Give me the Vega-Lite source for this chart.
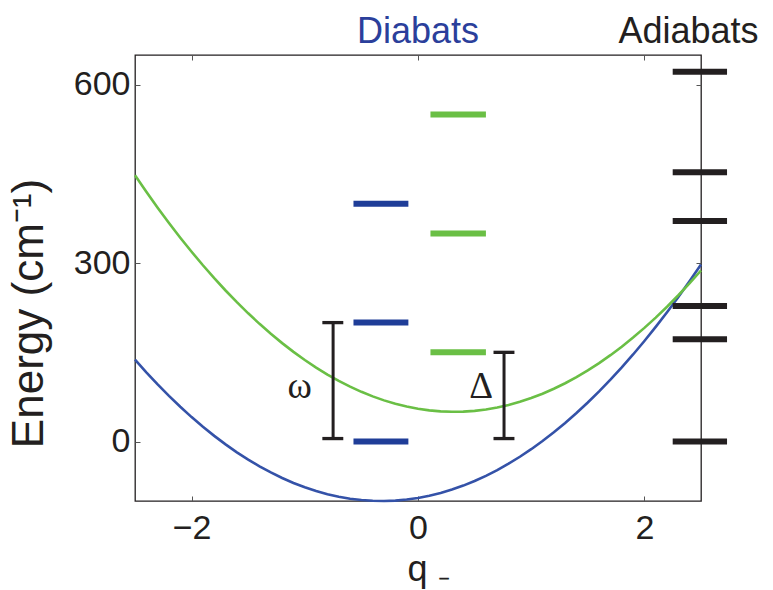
{
  "$schema": "https://vega.github.io/schema/vega-lite/v6.json",
  "width": 566,
  "height": 446,
  "autosize": "none",
  "padding": {"left": 135, "top": 55, "right": 72, "bottom": 89},
  "background": "white",
  "config": {
    "view": {"stroke": "#231f20", "strokeWidth": 1.3},
    "font": "Liberation Sans",
    "axis": {
      "grid": false,
      "domain": false,
      "tickSize": -5,
      "tickColor": "#555555",
      "tickWidth": 1,
      "labelFont": "Liberation Sans",
      "labelFontSize": 34,
      "labelColor": "#231f20",
      "titleFont": "Liberation Sans",
      "titleFontWeight": "normal",
      "titleColor": "#231f20"
    }
  },
  "datasets": {
    "curves": [
      {"q": -2.5, "E": 137.6, "s": "blue"}, {"q": -2.4, "E": 116.3, "s": "blue"}, {"q": -2.3, "E": 96.0, "s": "blue"}, {"q": -2.2, "E": 76.7, "s": "blue"}, {"q": -2.1, "E": 58.4, "s": "blue"},
      {"q": -2.0, "E": 41.1, "s": "blue"}, {"q": -1.9, "E": 24.8, "s": "blue"}, {"q": -1.8, "E": 9.5, "s": "blue"}, {"q": -1.7, "E": -4.8, "s": "blue"}, {"q": -1.6, "E": -18.1, "s": "blue"},
      {"q": -1.5, "E": -30.4, "s": "blue"}, {"q": -1.4, "E": -41.7, "s": "blue"}, {"q": -1.3, "E": -52.0, "s": "blue"}, {"q": -1.2, "E": -61.3, "s": "blue"}, {"q": -1.1, "E": -69.6, "s": "blue"},
      {"q": -1.0, "E": -76.9, "s": "blue"}, {"q": -0.9, "E": -83.2, "s": "blue"}, {"q": -0.8, "E": -88.5, "s": "blue"}, {"q": -0.7, "E": -92.8, "s": "blue"}, {"q": -0.6, "E": -96.1, "s": "blue"},
      {"q": -0.5, "E": -98.4, "s": "blue"}, {"q": -0.4, "E": -99.7, "s": "blue"}, {"q": -0.3, "E": -100.0, "s": "blue"}, {"q": -0.2, "E": -99.3, "s": "blue"}, {"q": -0.1, "E": -97.6, "s": "blue"},
      {"q": 0.0, "E": -94.9, "s": "blue"}, {"q": 0.1, "E": -91.2, "s": "blue"}, {"q": 0.2, "E": -86.5, "s": "blue"}, {"q": 0.3, "E": -80.8, "s": "blue"}, {"q": 0.4, "E": -74.1, "s": "blue"},
      {"q": 0.5, "E": -66.4, "s": "blue"}, {"q": 0.6, "E": -57.7, "s": "blue"}, {"q": 0.7, "E": -48.0, "s": "blue"}, {"q": 0.8, "E": -37.3, "s": "blue"}, {"q": 0.9, "E": -25.6, "s": "blue"},
      {"q": 1.0, "E": -12.9, "s": "blue"}, {"q": 1.1, "E": 0.8, "s": "blue"}, {"q": 1.2, "E": 15.5, "s": "blue"}, {"q": 1.3, "E": 31.2, "s": "blue"}, {"q": 1.4, "E": 47.9, "s": "blue"},
      {"q": 1.5, "E": 65.6, "s": "blue"}, {"q": 1.6, "E": 84.3, "s": "blue"}, {"q": 1.7, "E": 104.0, "s": "blue"}, {"q": 1.8, "E": 124.7, "s": "blue"}, {"q": 1.9, "E": 146.4, "s": "blue"},
      {"q": 2.0, "E": 169.1, "s": "blue"}, {"q": 2.1, "E": 192.8, "s": "blue"}, {"q": 2.2, "E": 217.5, "s": "blue"}, {"q": 2.3, "E": 243.2, "s": "blue"}, {"q": 2.4, "E": 269.9, "s": "blue"},
      {"q": 2.5, "E": 297.6, "s": "blue"},
      {"q": -2.5, "E": 447.6, "s": "green"}, {"q": -2.4, "E": 419.9, "s": "green"}, {"q": -2.3, "E": 393.2, "s": "green"}, {"q": -2.2, "E": 367.5, "s": "green"}, {"q": -2.1, "E": 342.8, "s": "green"},
      {"q": -2.0, "E": 319.1, "s": "green"}, {"q": -1.9, "E": 296.4, "s": "green"}, {"q": -1.8, "E": 274.7, "s": "green"}, {"q": -1.7, "E": 254.0, "s": "green"}, {"q": -1.6, "E": 234.3, "s": "green"},
      {"q": -1.5, "E": 215.6, "s": "green"}, {"q": -1.4, "E": 197.9, "s": "green"}, {"q": -1.3, "E": 181.2, "s": "green"}, {"q": -1.2, "E": 165.5, "s": "green"}, {"q": -1.1, "E": 150.8, "s": "green"},
      {"q": -1.0, "E": 137.1, "s": "green"}, {"q": -0.9, "E": 124.4, "s": "green"}, {"q": -0.8, "E": 112.7, "s": "green"}, {"q": -0.7, "E": 102.0, "s": "green"}, {"q": -0.6, "E": 92.3, "s": "green"},
      {"q": -0.5, "E": 83.6, "s": "green"}, {"q": -0.4, "E": 75.9, "s": "green"}, {"q": -0.3, "E": 69.2, "s": "green"}, {"q": -0.2, "E": 63.5, "s": "green"}, {"q": -0.1, "E": 58.8, "s": "green"},
      {"q": 0.0, "E": 55.1, "s": "green"}, {"q": 0.1, "E": 52.4, "s": "green"}, {"q": 0.2, "E": 50.7, "s": "green"}, {"q": 0.3, "E": 50.0, "s": "green"}, {"q": 0.4, "E": 50.3, "s": "green"},
      {"q": 0.5, "E": 51.6, "s": "green"}, {"q": 0.6, "E": 53.9, "s": "green"}, {"q": 0.7, "E": 57.2, "s": "green"}, {"q": 0.8, "E": 61.5, "s": "green"}, {"q": 0.9, "E": 66.8, "s": "green"},
      {"q": 1.0, "E": 73.1, "s": "green"}, {"q": 1.1, "E": 80.4, "s": "green"}, {"q": 1.2, "E": 88.7, "s": "green"}, {"q": 1.3, "E": 98.0, "s": "green"}, {"q": 1.4, "E": 108.3, "s": "green"},
      {"q": 1.5, "E": 119.6, "s": "green"}, {"q": 1.6, "E": 131.9, "s": "green"}, {"q": 1.7, "E": 145.2, "s": "green"}, {"q": 1.8, "E": 159.5, "s": "green"}, {"q": 1.9, "E": 174.8, "s": "green"},
      {"q": 2.0, "E": 191.1, "s": "green"}, {"q": 2.1, "E": 208.4, "s": "green"}, {"q": 2.2, "E": 226.7, "s": "green"}, {"q": 2.3, "E": 246.0, "s": "green"}, {"q": 2.4, "E": 266.3, "s": "green"},
      {"q": 2.5, "E": 287.6, "s": "green"}
    ],
    "levels": [
      {"q1": -0.57, "q2": -0.085, "E": 0, "k": "blue"},
      {"q1": -0.57, "q2": -0.085, "E": 200, "k": "blue"},
      {"q1": -0.57, "q2": -0.085, "E": 400, "k": "blue"},
      {"q1": 0.11, "q2": 0.6, "E": 150, "k": "green"},
      {"q1": 0.11, "q2": 0.6, "E": 350, "k": "green"},
      {"q1": 0.11, "q2": 0.6, "E": 550, "k": "green"},
      {"q1": 2.25, "q2": 2.73, "E": 0, "k": "black"},
      {"q1": 2.25, "q2": 2.73, "E": 172, "k": "black"},
      {"q1": 2.25, "q2": 2.73, "E": 228, "k": "black"},
      {"q1": 2.25, "q2": 2.73, "E": 371, "k": "black"},
      {"q1": 2.25, "q2": 2.73, "E": 453, "k": "black"},
      {"q1": 2.25, "q2": 2.73, "E": 622, "k": "black"}
    ],
    "bars": [
      {"q": -0.75, "lo": 5, "hi": 200},
      {"q": 0.76, "lo": 5, "hi": 150}
    ],
    "caps": [
      {"c1": -0.845, "c2": -0.66, "E": 5},
      {"c1": -0.845, "c2": -0.66, "E": 200},
      {"c1": 0.667, "c2": 0.852, "E": 5},
      {"c1": 0.667, "c2": 0.852, "E": 150}
    ],
    "symbols": [
      {"q": -1.046, "E": 73.5, "t": "ω"},
      {"q": 0.558, "E": 73.5, "t": "Δ"}
    ],
    "headers": [
      {"q": 0.0, "E": 670, "t": "Diabats", "k": "blue"},
      {"q": 2.39, "E": 670, "t": "Adiabats", "k": "black"}
    ]
  },
  "layer": [
    {
      "data": {"name": "curves"},
      "mark": {"type": "line", "strokeWidth": 2.6},
      "encoding": {
        "x": {"field": "q", "type": "quantitative", "scale": {"domain": [-2.5, 2.5], "nice": false, "zero": false},
              "axis": {"orient": "bottom", "values": [-2, 0, 2], "labelPadding": 15, "title": "q ₋", "titleFontSize": 36, "titleX": 293, "titleY": 79, "titleBaseline": "alphabetic"}},
        "y": {"field": "E", "type": "quantitative", "scale": {"domain": [-100, 650], "nice": false, "zero": false},
              "axis": {"orient": "left", "values": [0, 300, 600], "labelPadding": 10, "title": "Energy (cm⁻¹)", "titleFontSize": 44, "titleX": -93, "titleY": 258, "titleBaseline": "alphabetic", "titleAngle": -90}},
        "color": {"field": "s", "type": "nominal", "scale": {"domain": ["blue", "green"], "range": ["#3452a8", "#6abf45"]}, "legend": null},
        "detail": {"field": "s"}
      }
    },
    {
      "data": {"name": "levels"},
      "mark": {"type": "rule", "strokeWidth": 6, "strokeCap": "butt"},
      "encoding": {
        "x": {"field": "q1", "type": "quantitative", "axis": {"orient": "top", "values": [-2, 0, 2], "labels": false, "title": null}},
        "x2": {"field": "q2"},
        "y": {"field": "E", "type": "quantitative", "axis": {"orient": "right", "values": [0, 300, 600], "labels": false, "title": null}},
        "color": {"field": "k", "type": "nominal", "scale": {"domain": ["blue", "green", "black"], "range": ["#1f3d98", "#6abf45", "#231f20"]}, "legend": null}
      }
    },
    {
      "data": {"name": "bars"},
      "mark": {"type": "rule", "strokeWidth": 3, "color": "#231f20"},
      "encoding": {
        "x": {"field": "q", "type": "quantitative", "axis": null},
        "y": {"field": "lo", "type": "quantitative", "axis": null},
        "y2": {"field": "hi"}
      }
    },
    {
      "data": {"name": "caps"},
      "mark": {"type": "rule", "strokeWidth": 3.3, "color": "#231f20", "strokeCap": "butt"},
      "encoding": {
        "x": {"field": "c1", "type": "quantitative", "axis": null},
        "x2": {"field": "c2"},
        "y": {"field": "E", "type": "quantitative", "axis": null}
      }
    },
    {
      "data": {"name": "symbols"},
      "mark": {"type": "text", "font": "Liberation Serif", "fontSize": 37, "baseline": "alphabetic", "align": "center", "color": "#231f20"},
      "encoding": {
        "x": {"field": "q", "type": "quantitative", "axis": null},
        "y": {"field": "E", "type": "quantitative", "axis": null},
        "text": {"field": "t"}
      }
    },
    {
      "data": {"name": "headers"},
      "mark": {"type": "text", "font": "Liberation Sans", "fontSize": 36, "baseline": "alphabetic", "align": "center"},
      "encoding": {
        "x": {"field": "q", "type": "quantitative", "axis": null},
        "y": {"field": "E", "type": "quantitative", "axis": null},
        "text": {"field": "t"},
        "color": {"field": "k", "type": "nominal", "scale": {"domain": ["blue", "black"], "range": ["#2b3f9b", "#231f20"]}, "legend": null}
      }
    }
  ],
  "resolve": {"axis": {"x": "independent", "y": "independent"}, "scale": {"color": "independent"}}
}
